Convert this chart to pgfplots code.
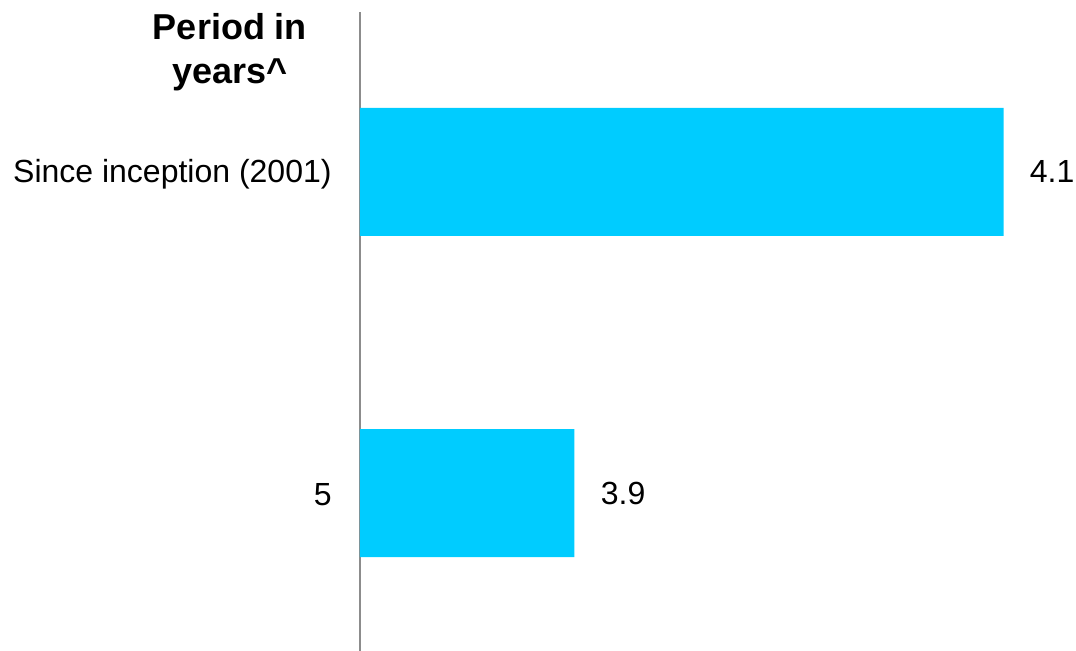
\documentclass[border=0pt]{standalone}
\usepackage{pgfplots}
\pgfplotsset{compat=1.18}
\usepackage{fontspec}
\setmainfont{Liberation Sans}
\definecolor{barblue}{HTML}{00CCFF}
\definecolor{axisgray}{HTML}{8C8C8C}

\begin{document}
\begin{tikzpicture}
\begin{axis}[
  name=ax,
  xbar, bar shift=0pt, bar width=64pt,
  scale only axis, width=358pt, height=319.5pt,
  xmin=3.8, xmax=4.1338,
  ymin=-0.492, ymax=1.498,
  hide x axis,
  axis y line*=left,
  y axis line style={draw=axisgray, line width=1pt, -},
  ytick={0,1}, yticklabels={5, Since inception (2001)},
  major tick length=0pt,
  yticklabel style={font=\fontsize{16}{19}\selectfont, inner sep=0pt, anchor=east, xshift=-14pt, yshift=-1pt},
  point meta=explicit symbolic,
  nodes near coords,
  nodes near coords style={font=\fontsize{16}{19}\selectfont, anchor=west, inner sep=0pt, xshift=13pt, text=black},
]
\addplot[fill=barblue, draw=none] coordinates {(4.1,1) [4.1] (3.9,0) [3.9]};
\end{axis}
\node[anchor=north, align=center, inner sep=0pt, font=\bfseries\fontsize{18}{22}\selectfont]
  at ([xshift=-65pt, yshift=-0.5pt]ax.north west) {Period in\\years\textasciicircum};
\pgfresetboundingbox
\path[use as bounding box] ([xshift=-180pt]ax.south west) rectangle ([yshift=6pt]ax.north east);
\end{tikzpicture}
\end{document}
